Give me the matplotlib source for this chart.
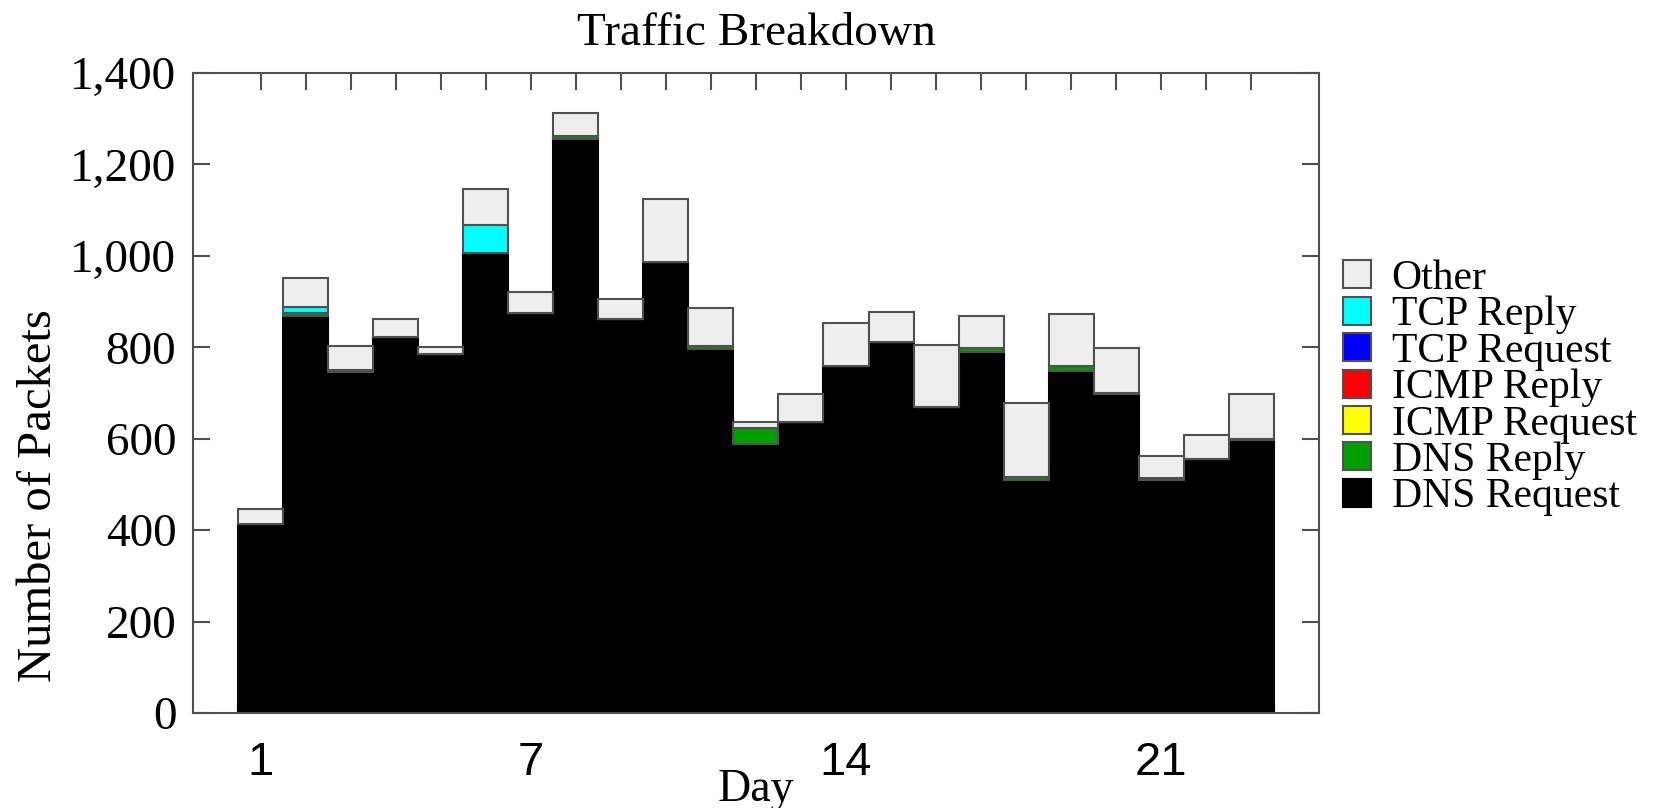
import matplotlib
matplotlib.use("Agg")
import matplotlib.pyplot as plt
import numpy as np
from matplotlib.ticker import FuncFormatter

# Packets per day, one list per traffic type (stacking order, bottom first)
days = list(range(1, 24))
dns_request = [413, 868, 746, 823, 785, 1007, 874, 1256, 861, 987, 796, 588,
               637, 759, 812, 670, 789, 510, 747, 697, 509, 555, 597]
dns_reply = [0, 8, 5, 0, 0, 0, 0, 7, 0, 0, 6, 35,
             0, 0, 0, 0, 10, 6, 11, 2, 4, 0, 2]
icmp_request = [0] * 23
icmp_reply = [0] * 23
tcp_request = [0] * 23
tcp_reply = [0, 13, 0, 0, 0, 61, 0, 0, 0, 0, 0, 0,
             0, 0, 0, 0, 0, 0, 0, 0, 0, 0, 0]
other = [33, 63, 52, 38, 16, 78, 46, 49, 45, 137, 83, 14,
         61, 93, 65, 135, 70, 161, 114, 99, 49, 53, 99]

series = [
    ("DNS Request", dns_request, "#000000"),
    ("DNS Reply", dns_reply, "#00a000"),
    ("ICMP Request", icmp_request, "#ffff00"),
    ("ICMP Reply", icmp_reply, "#ff0000"),
    ("TCP Request", tcp_request, "#0000ff"),
    ("TCP Reply", tcp_reply, "#00ffff"),
    ("Other", other, "#eeeeee"),
]

xtick_labels = {1: "1", 7: "7", 14: "14", 21: "21"}

plt.rcParams["font.family"] = "Liberation Serif"
edge = "#505050"

fig = plt.figure(figsize=(16.78, 8.08), dpi=100)
ax = fig.add_axes([0.1150, 0.1176, 0.6710, 0.7921])

# === Stacked bars ===
bottom = np.zeros(len(days))
handles = []
for name, vals, color in series:
    ec = "#000000" if color == "#000000" else edge
    bars = ax.bar(days, vals, width=1.0, bottom=bottom, color=color,
                  edgecolor=ec, linewidth=1.5, label=name)
    handles.append(bars)
    bottom += np.array(vals)

ax.set_xlim(-0.5, 24.5)
ax.set_ylim(0, 1400)
ax.set_yticks(range(0, 1401, 200))
ax.yaxis.set_major_formatter(FuncFormatter(lambda v, p: f"{int(v):,}"))

ax.set_xticks(days)
ax.set_xticklabels([xtick_labels.get(d, "") for d in days],
                   family="Liberation Sans", fontsize=34)

ax.tick_params(axis="y", direction="in", length=12, width=1.5, color=edge,
               left=True, right=True, labelsize=34, pad=12)
ax.tick_params(axis="x", direction="in", length=12, width=1.5, color=edge,
               bottom=False, top=True, pad=20)
for s in ax.spines.values():
    s.set_color(edge)
    s.set_linewidth(1.5)

ax.set_title("Traffic Breakdown", fontsize=34, pad=20)
ax.set_xlabel("Day", fontsize=33, labelpad=-12)
ax.set_ylabel("Number of Packets", fontsize=35)
ax.yaxis.set_label_coords(-0.117, 0.34)

# legend lists the top segment first
fig.legend(handles[::-1], [s[0] for s in series][::-1],
           loc="upper left", bbox_to_anchor=(0.7904, 0.6995),
           frameon=False, fontsize=30, handlelength=0.67, handleheight=0.66,
           handletextpad=0.5, labelspacing=-0.05, borderaxespad=0)

fig.savefig("out.png", dpi=100)
plt.close(fig)
